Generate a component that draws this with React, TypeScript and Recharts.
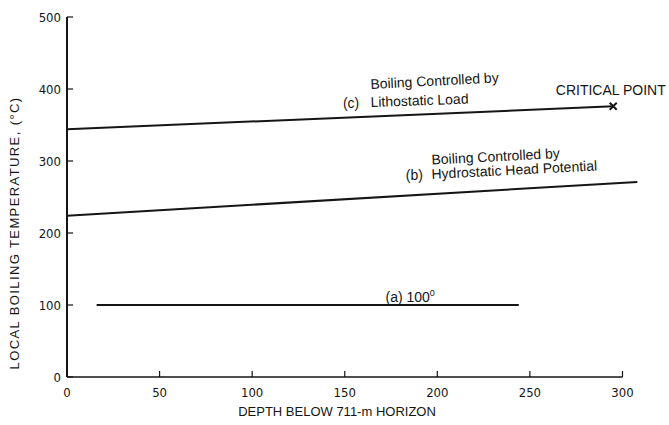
import React from 'react';
import { LineChart, Line, XAxis, YAxis, ReferenceLine, ReferenceDot } from 'recharts';

const depthTicks = [0, 50, 100, 150, 200, 250, 300];
const tempTicks = [0, 100, 200, 300, 400, 500];

// (a) 100 deg
const depthA = [16, 244];
const tempA = [100, 100];
// (b) hydrostatic head
const depthB = [0, 308];
const tempB = [224, 271];
// (c) lithostatic load, ends at the critical point
const depthC = [0, 295];
const tempC = [344, 376];

const toRows = (xs: number[], ys: number[]) => xs.map((d, i) => ({ depth: d, temp: ys[i] }));

const FONT = "'Liberation Sans', Arial, sans-serif";
const NARROW = "'Liberation Sans Narrow', 'DejaVu Sans Condensed', sans-serif";
const INK = '#151515';

const XTick = (props: any) => {
    const { x, y, payload } = props;
    return (
        <g>
            <line x1={x} x2={x} y1={y} y2={y - 6} stroke={INK} strokeWidth={1.2} />
            <text x={x} y={y + 20} textAnchor="middle" fontSize={13} fontFamily={NARROW} fill={INK}>
                {payload.value}
            </text>
        </g>
    );
};

const YTick = (props: any) => {
    const { x, y, payload } = props;
    return (
        <g>
            <line x1={x} x2={x + 6} y1={y} y2={y} stroke={INK} strokeWidth={1.2} />
            <text x={x - 6} y={y + 5} textAnchor="end" fontSize={13} fontFamily={NARROW} fill={INK}>
                {payload.value}
            </text>
        </g>
    );
};

const note = (text: React.ReactNode, rotate = 0, size = 14) => (p: any) => (
    <text
        x={p.cx}
        y={p.cy}
        fontSize={size}
        fontFamily={FONT}
        fill={INK}
        transform={rotate ? `rotate(${rotate} ${p.cx} ${p.cy})` : undefined}
    >
        {text}
    </text>
);

const lastC = depthC.length - 1;
const CrossDot = (p: any) => {
    if (p.index !== lastC) return <g key={`c-${p.index}`} />;
    const s = 3.5;
    return (
        <path
            key={`c-${p.index}`}
            d={`M${p.cx - s},${p.cy - s}L${p.cx + s},${p.cy + s}M${p.cx - s},${p.cy + s}L${p.cx + s},${p.cy - s}`}
            stroke={INK}
            strokeWidth={2}
        />
    );
};

export default function App() {
    return (
        <div style={{ position: 'absolute', left: 0, top: 0, background: '#fff' }}>
            <LineChart width={669} height={425} margin={{ top: 17, right: 28, left: 0, bottom: 18 }}>
                <XAxis
                    type="number"
                    dataKey="depth"
                    domain={[0, 310]}
                    ticks={depthTicks}
                    axisLine={false}
                    tickLine={false}
                    tickSize={0}
                    tickMargin={0}
                    tick={<XTick />}
                    height={30}
                    allowDuplicatedCategory={false}
                    label={(p: any) => (
                        <text
                            x={p.viewBox.x + p.viewBox.width / 2 - 17}
                            y={p.viewBox.y + 39}
                            textAnchor="middle"
                            fontSize={13}
                            fontFamily={FONT}
                            fill={INK}
                        >
                            DEPTH BELOW 711-m HORIZON
                        </text>
                    )}
                />
                <YAxis
                    type="number"
                    dataKey="temp"
                    domain={[0, 500]}
                    ticks={tempTicks}
                    width={67}
                    axisLine={{ stroke: INK, strokeWidth: 2 }}
                    tickLine={false}
                    tickSize={0}
                    tickMargin={0}
                    tick={<YTick />}
                    label={(p: any) => {
                        const cx = p.viewBox.x + 19;
                        const cy = p.viewBox.y + p.viewBox.height / 2 + 36;
                        return (
                            <text
                                x={cx}
                                y={cy}
                                textAnchor="middle"
                                fontSize={13}
                                letterSpacing={1.4}
                                fontFamily={FONT}
                                fill={INK}
                                transform={`rotate(-90 ${cx} ${cy})`}
                            >
                                LOCAL BOILING TEMPERATURE, (°C)
                            </text>
                        );
                    }}
                />
                <ReferenceLine
                    segment={[{ x: 0, y: 0 }, { x: 300, y: 0 }]}
                    stroke={INK}
                    strokeWidth={1.5}
                />
                <Line
                    data={toRows(depthA, tempA)}
                    dataKey="temp"
                    stroke={INK}
                    strokeWidth={2}
                    dot={false}
                    isAnimationActive={false}
                />
                <Line
                    data={toRows(depthB, tempB)}
                    dataKey="temp"
                    stroke={INK}
                    strokeWidth={2}
                    dot={false}
                    isAnimationActive={false}
                />
                <Line
                    data={toRows(depthC, tempC)}
                    dataKey="temp"
                    stroke={INK}
                    strokeWidth={2}
                    dot={CrossDot}
                    isAnimationActive={false}
                />
                <ReferenceDot x={164} y={400} r={1} shape={note('Boiling Controlled by', -3)} />
                <ReferenceDot x={149} y={373} r={1} shape={note('(c)')} />
                <ReferenceDot x={164} y={375} r={1} shape={note('Lithostatic Load', -2)} />
                <ReferenceDot x={264} y={392} r={1} shape={note('CRITICAL POINT')} />
                <ReferenceDot x={197} y={295} r={1} shape={note('Boiling Controlled by', -3)} />
                <ReferenceDot x={183} y={273} r={1} shape={note('(b)')} />
                <ReferenceDot x={197} y={275} r={1} shape={note('Hydrostatic Head Potential', -3)} />
                <ReferenceDot x={172} y={104} r={1} shape={note(<>(a)  100<tspan fontSize={9} dy={-6}>0</tspan></>)} />
            </LineChart>
        </div>
    );
}
